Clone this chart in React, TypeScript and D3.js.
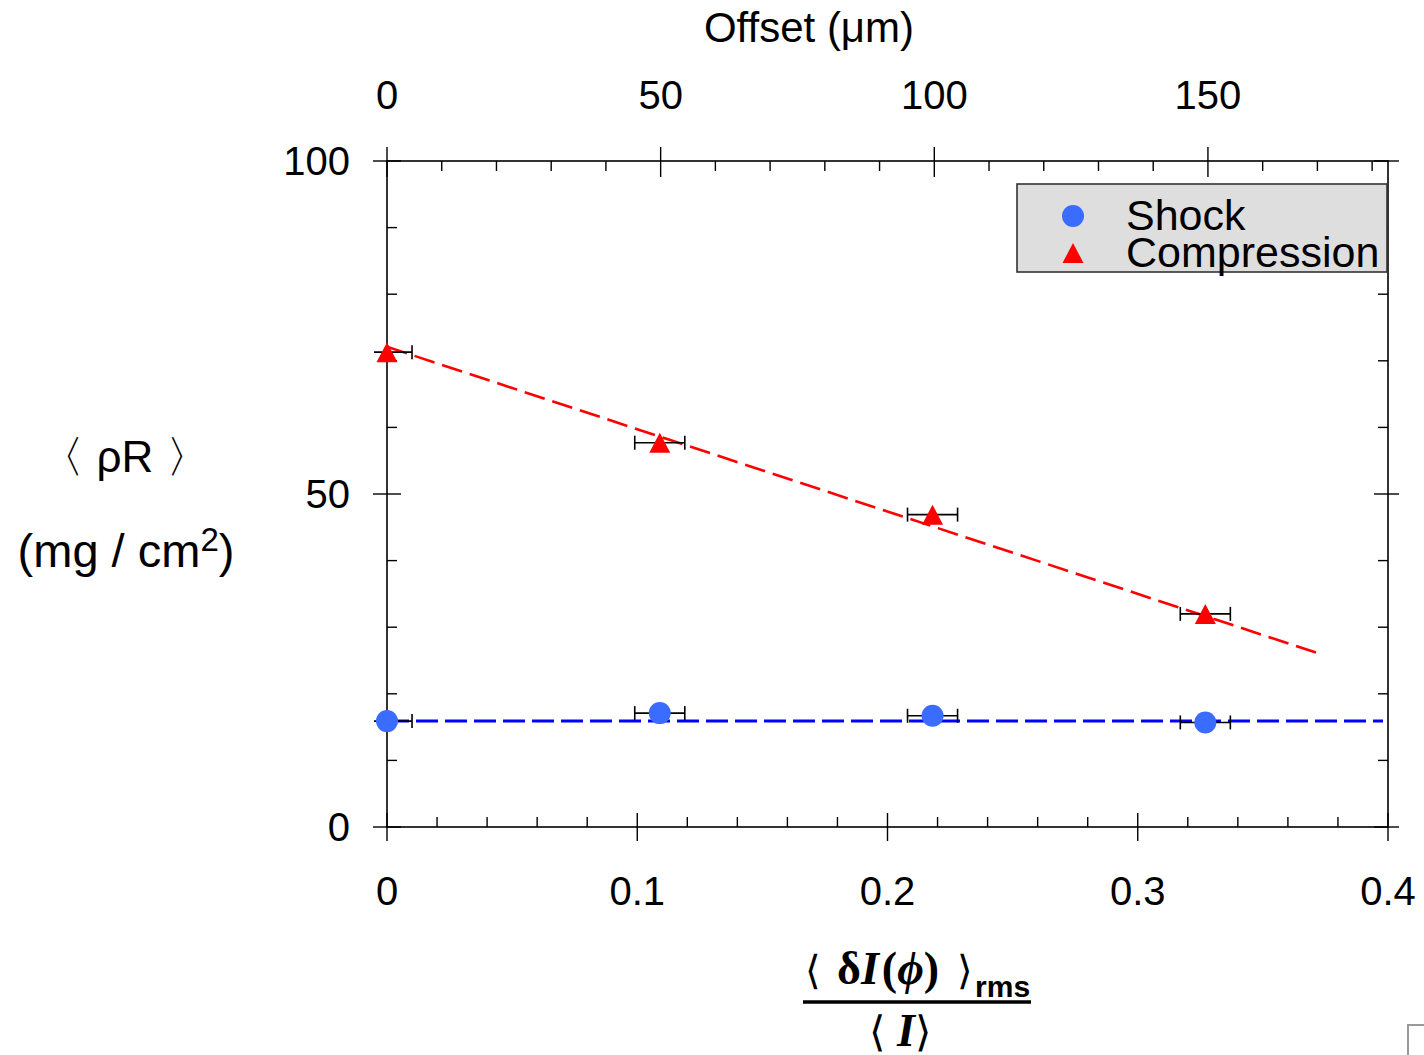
import React from 'react';
import * as d3 from 'd3';

const width = 1424;
const height = 1055;
const sans = '"Liberation Sans", Arial, sans-serif';
const serif = '"Liberation Serif", "Times New Roman", serif';
const shockColor = '#3a6cff';
const shockLine = '#0000ff';
const compColor = '#ff0000';

// bottom axis: normalized intensity spread
const spread = [0, 0.109, 0.218, 0.327];
const spreadErr = [0.01, 0.01, 0.01, 0.01];
// areal density (mg/cm2)
const shock = [15.9, 17.1, 16.7, 15.7];
const compression = [71.3, 57.7, 46.9, 32.0];
// dashed fits, [x, y]
const shockFit: [number, number][] = [[0, 15.9], [0.398, 15.9]];
const compressionFit: [number, number][] = [[0, 72.1], [0.372, 26.1]];

const xMajor = [0, 0.1, 0.2, 0.3, 0.4];
const xLabels = ['0', '0.1', '0.2', '0.3', '0.4'];
const xMinorStep = 0.02;
const yMajor = [0, 50, 100];
const yLabels = ['0', '50', '100'];
const yMinorStep = 10;
const topMajor = [0, 50, 100, 150];
const topLabels = ['0', '50', '100', '150'];
const topMinorStep = 10;
const topMax = 182.9;

const plot = { left: 387, right: 1388, top: 161, bottom: 827 };

export default function App() {
  const x = d3.scaleLinear().domain([0, 0.4]).range([plot.left, plot.right]);
  const xTop = d3.scaleLinear().domain([0, topMax]).range([plot.left, plot.right]);
  const y = d3.scaleLinear().domain([0, 100]).range([plot.bottom, plot.top]);

  const line = d3
    .line<[number, number]>()
    .x((d) => x(d[0]))
    .y((d) => y(d[1]));

  const tri = (s: number) => `M0,${-s}L${s * 1.05},${s}L${-s * 1.05},${s}Z`;

  const xMinor = d3.range(0, 0.4 + 1e-9, xMinorStep).filter((v) => !xMajor.some((m) => Math.abs(m - v) < 1e-9));
  const yMinor = d3.range(0, 100 + 1e-9, yMinorStep).filter((v) => !yMajor.includes(v));
  const topMinor = d3.range(0, topMax, topMinorStep).filter((v) => !topMajor.includes(v));

  const major = 14;
  const minor = 10;

  const errBars = (vals: number[], key: string) =>
    spread.map((s, i) => {
      const x0 = x(s - spreadErr[i]);
      const x1 = x(s + spreadErr[i]);
      const yy = y(vals[i]);
      return (
        <g key={key + i} stroke="#000" strokeWidth={1.6} clipPath="url(#errclip)">
          <line x1={x0} x2={x1} y1={yy} y2={yy} />
          <line x1={x0} x2={x0} y1={yy - 7} y2={yy + 7} />
          <line x1={x1} x2={x1} y1={yy - 7} y2={yy + 7} />
        </g>
      );
    });

  return (
    <svg
      width={width}
      height={height}
      style={{ position: 'absolute', left: 0, top: 0, display: 'block', background: '#fff' }}
    >
      <defs>
        <clipPath id="errclip">
          <rect x={plot.left - 13} y={0} width={width} height={height} />
        </clipPath>
      </defs>

      {/* frame */}
      <rect
        x={plot.left}
        y={plot.top}
        width={plot.right - plot.left}
        height={plot.bottom - plot.top}
        fill="none"
        stroke="#000"
        strokeWidth={1.6}
      />

      {/* ticks */}
      <g stroke="#000" strokeWidth={1.4}>
        {xMajor.map((v) => (
          <line key={'xb' + v} x1={x(v)} x2={x(v)} y1={plot.bottom - major} y2={plot.bottom + major} />
        ))}
        {xMinor.map((v) => (
          <line key={'xm' + v} x1={x(v)} x2={x(v)} y1={plot.bottom - minor} y2={plot.bottom} />
        ))}
        {topMajor.map((v) => (
          <line key={'tb' + v} x1={xTop(v)} x2={xTop(v)} y1={plot.top - major} y2={plot.top + major + 2} />
        ))}
        {topMinor.map((v) => (
          <line key={'tm' + v} x1={xTop(v)} x2={xTop(v)} y1={plot.top} y2={plot.top + minor} />
        ))}
        {yMajor.map((v) => (
          <g key={'yb' + v}>
            <line x1={plot.left - major} x2={plot.left + major} y1={y(v)} y2={y(v)} />
            <line x1={plot.right - major} x2={plot.right + 11} y1={y(v)} y2={y(v)} />
          </g>
        ))}
        {yMinor.map((v) => (
          <g key={'ym' + v}>
            <line x1={plot.left} x2={plot.left + minor} y1={y(v)} y2={y(v)} />
            <line x1={plot.right - minor} x2={plot.right} y1={y(v)} y2={y(v)} />
          </g>
        ))}
      </g>

      {/* tick labels */}
      <g fontFamily={sans} fontSize={40} fill="#000">
        {xMajor.map((v, i) => (
          <text key={'xl' + v} x={x(v)} y={905} textAnchor="middle">
            {xLabels[i]}
          </text>
        ))}
        {topMajor.map((v, i) => (
          <text key={'tl' + v} x={xTop(v)} y={109} textAnchor="middle">
            {topLabels[i]}
          </text>
        ))}
        {yMajor.map((v, i) => (
          <text key={'yl' + v} x={350} y={y(v) + 14} textAnchor="end">
            {yLabels[i]}
          </text>
        ))}
      </g>

      {/* axis titles */}
      <text x={809} y={42} fontFamily={sans} fontSize={42} textAnchor="middle">
        Offset (μm)
      </text>
      <text x={125} y={472} fontFamily={sans} fontSize={44} textAnchor="middle">
        〈 ρR 〉
      </text>
      <text x={126} y={567} fontFamily={sans} fontSize={47} textAnchor="middle">
        (mg / cm<tspan fontSize={33} dy={-16}>2</tspan>
        <tspan dy={16}>)</tspan>
      </text>

      <g fill="#000">
        <text x={805} y={984} fontFamily={sans} fontSize={40}>
          <tspan>⟨</tspan>
          <tspan dx={16} fontFamily={serif} fontWeight="bold" fontSize={46}>δ</tspan>
          <tspan fontFamily={serif} fontWeight="bold" fontStyle="italic" fontSize={46}>I</tspan>
          <tspan dx={3} fontFamily={serif} fontWeight="bold" fontSize={46}>(</tspan>
          <tspan fontFamily={serif} fontWeight="bold" fontStyle="italic" fontSize={46}>ϕ</tspan>
          <tspan fontFamily={serif} fontWeight="bold" fontSize={46}>)</tspan>
          <tspan dx={18}>⟩</tspan>
          <tspan dx={2} fontFamily={sans} fontWeight="bold" fontSize={30} dy={13}>rms</tspan>
        </text>
        <line x1={803} x2={1031} y1={1002} y2={1002} stroke="#000" strokeWidth={3.5} />
        <text x={900} y={1046} fontFamily={sans} fontSize={42} textAnchor="middle">
          <tspan>⟨ </tspan>
          <tspan fontFamily={serif} fontWeight="bold" fontStyle="italic" fontSize={46}>I</tspan>
          <tspan>⟩</tspan>
        </text>
      </g>

      {/* fits */}
      <path d={line(compressionFit) ?? ''} fill="none" stroke={compColor} strokeWidth={2.6} strokeDasharray="21,8" />
      <path d={line(shockFit) ?? ''} fill="none" stroke={shockLine} strokeWidth={3} strokeDasharray="22,7" />

      {/* error bars */}
      {errBars(compression, 'ec')}
      {errBars(shock, 'es')}

      {/* markers */}
      {spread.map((s, i) => (
        <circle key={'s' + i} cx={x(s)} cy={y(shock[i])} r={11} fill={shockColor} />
      ))}
      {spread.map((s, i) => (
        <path
          key={'c' + i}
          d={tri(10)}
          transform={`translate(${x(s)},${y(compression[i])})`}
          fill={compColor}
        />
      ))}

      {/* legend */}
      <rect x={1017} y={184} width={370} height={88} fill="#dedede" stroke="#333" strokeWidth={1.6} />
      <circle cx={1073} cy={216} r={11} fill={shockColor} />
      <path d={tri(10)} transform="translate(1073,253)" fill={compColor} />
      <text x={1126} y={230} fontFamily={sans} fontSize={43}>
        Shock
      </text>
      <text x={1126} y={267} fontFamily={sans} fontSize={43}>
        Compression
      </text>

      {/* stray box corner at page edge */}
      <path d="M1408,1055V1025H1424" fill="none" stroke="#999" strokeWidth={2} />
    </svg>
  );
}
